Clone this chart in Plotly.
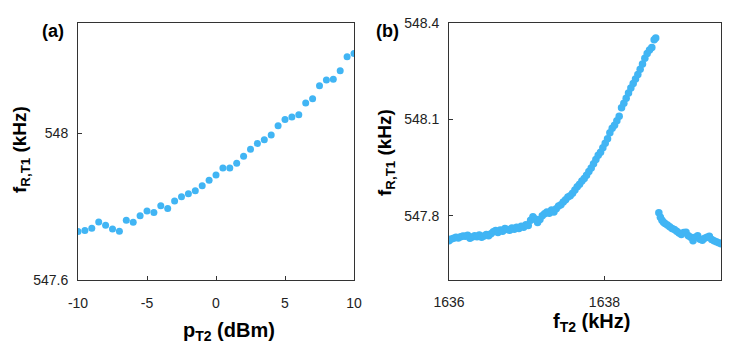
import plotly.graph_objects as go
from plotly.subplots import make_subplots

# panel (a): resonator frequency vs pump power
p_t2 = [-10, -9.5, -9, -8.5, -8, -7.5, -7, -6.5, -6, -5.5, -5, -4.5, -4, -3.5, -3,
        -2.5, -2, -1.5, -1, -0.5, 0, 0.5, 1, 1.5, 2, 2.5, 3, 3.5, 4, 4.5, 5,
        5.5, 6, 6.5, 7, 7.5, 8, 8.5, 9, 9.5, 10]
f_r_a = [547.732, 547.735, 547.741, 547.758, 547.749, 547.739, 547.733, 547.763,
         547.757, 547.775, 547.788, 547.784, 547.802, 547.795, 547.815, 547.827,
         547.835, 547.843, 547.857, 547.872, 547.886, 547.905, 547.905, 547.918,
         547.937, 547.956, 547.972, 547.982, 547.995, 548.020, 548.037, 548.044,
         548.050, 548.082, 548.094, 548.129, 548.145, 548.147, 548.170, 548.208,
         548.217]
ticks_a_x = [-10, -5, 0, 5, 10]
ticks_a_y = [547.6, 548]

# panel (b): resonator frequency vs pump frequency (upper branch, then jump)
f_t2_up = [1636.00, 1636.03, 1636.06, 1636.09, 1636.12, 1636.15, 1636.18, 1636.21,
           1636.24, 1636.27, 1636.30, 1636.33, 1636.36, 1636.39, 1636.42, 1636.45,
           1636.48, 1636.51, 1636.54, 1636.57, 1636.60, 1636.63, 1636.66, 1636.69,
           1636.72, 1636.75, 1636.78, 1636.81, 1636.84, 1636.87, 1636.90, 1636.93,
           1636.96, 1636.99, 1637.02, 1637.05, 1637.08, 1637.11, 1637.14, 1637.17,
           1637.20, 1637.23, 1637.26, 1637.29, 1637.32, 1637.35, 1637.38, 1637.41,
           1637.44, 1637.47, 1637.50, 1637.53, 1637.56, 1637.59, 1637.62, 1637.65,
           1637.68, 1637.71, 1637.74, 1637.77, 1637.80, 1637.83, 1637.86, 1637.89,
           1637.92, 1637.95, 1637.98, 1638.01, 1638.04, 1638.07, 1638.10, 1638.13,
           1638.16, 1638.19, 1638.22, 1638.25, 1638.28, 1638.31, 1638.34, 1638.37,
           1638.40, 1638.43, 1638.46, 1638.49, 1638.52, 1638.55, 1638.58, 1638.61,
           1638.64, 1638.66]
f_r_up = [547.722, 547.728, 547.730, 547.733, 547.731, 547.735, 547.737, 547.736,
          547.739, 547.730, 547.734, 547.738, 547.735, 547.740, 547.733, 547.737,
          547.742, 547.738, 547.744, 547.750, 547.754, 547.748, 547.756, 547.752,
          547.760, 547.757, 547.755, 547.762, 547.758, 547.764, 547.760, 547.767,
          547.764, 547.772, 547.770, 547.786, 547.797, 547.790, 547.779, 547.788,
          547.800, 547.806, 547.812, 547.808, 547.818, 547.812, 547.822, 547.830,
          547.834, 547.843, 547.850, 547.858, 547.862, 547.870, 547.880, 547.890,
          547.898, 547.908, 547.916, 547.926, 547.938, 547.949, 547.962, 547.975,
          547.988, 547.998, 548.012, 548.026, 548.040, 548.058, 548.072, 548.082,
          548.096, 548.110, 548.136, 548.150, 548.166, 548.182, 548.198, 548.212,
          548.226, 548.240, 548.256, 548.272, 548.290, 548.305, 548.316, 548.324,
          548.348, 548.353]
f_t2_low = [1638.70, 1638.72, 1638.74, 1638.76, 1638.78, 1638.81, 1638.84, 1638.87,
            1638.90, 1638.93, 1638.96, 1638.99, 1639.02, 1639.05, 1639.08, 1639.11,
            1639.14, 1639.17, 1639.20, 1639.23, 1639.26, 1639.29, 1639.32, 1639.35,
            1639.38, 1639.41, 1639.44, 1639.47, 1639.50]
f_r_low = [547.809, 547.795, 547.786, 547.780, 547.776, 547.771, 547.766, 547.760,
           547.757, 547.752, 547.746, 547.742, 547.748, 547.749, 547.738, 547.733,
           547.722, 547.733, 547.738, 547.727, 547.724, 547.730, 547.733, 547.736,
           547.726, 547.722, 547.719, 547.716, 547.713]
ticks_b_x = [1636, 1638]
ticks_b_y = [547.8, 548.1, 548.4]

BLUE = '#41b5f4'
FONT = 'Liberation Sans, Arial, Helvetica, sans-serif'
W, H = 736, 355

fig = make_subplots(rows=1, cols=2)

fig.add_trace(go.Scatter(x=p_t2, y=f_r_a, mode='markers',
                         marker=dict(color=BLUE, size=7), showlegend=False),
              row=1, col=1)
fig.add_trace(go.Scatter(x=f_t2_up + f_t2_low, y=f_r_up + f_r_low, mode='markers',
                         marker=dict(color=BLUE, size=7.5), showlegend=False),
              row=1, col=2)

axis_style = dict(showline=True, linecolor='#333', linewidth=1, mirror=True,
                  ticks='inside', ticklen=4, tickcolor='#333', showgrid=False,
                  zeroline=False, automargin=False,
                  tickfont=dict(size=14, color='#222', family=FONT))

fig.update_xaxes(**axis_style)
fig.update_yaxes(**axis_style)

fig.update_xaxes(domain=[78 / W, 354 / W], range=[-10, 10],
                 tickvals=ticks_a_x, ticktext=[str(t) for t in ticks_a_x],
                 ticklabelstandoff=10, row=1, col=1)
fig.update_yaxes(domain=[75 / H, 332 / H], range=[547.6, 548.3],
                 tickvals=ticks_a_y, ticktext=['547.6', '548'],
                 ticklabelstandoff=6, row=1, col=1)
fig.update_xaxes(domain=[449 / W, 721 / W], range=[1636, 1639.5],
                 tickvals=ticks_b_x, ticklabelstandoff=9, row=1, col=2)
fig.update_yaxes(domain=[75 / H, 332 / H], range=[547.6, 548.4],
                 tickvals=ticks_b_y, ticklabelstandoff=6, row=1, col=2)


def label(text, x, y, size, angle=0):
    fig.add_annotation(text=text, x=x / W, y=1 - y / H, xref='paper', yref='paper',
                       xanchor='center', yanchor='middle',
                       showarrow=False, textangle=angle,
                       font=dict(size=size, color='black', family=FONT))


label('<b>(a)</b>', 53, 31, 18)
label('<b>(b)</b>', 387, 31, 18)
label('<b>f<sub>R,T1</sub> (kHz)</b>', 21, 150, 19, -90)
label('<b>f<sub>R,T1</sub> (kHz)</b>', 386, 153, 19, -90)
label('<b>p<sub>T2</sub> (dBm)</b>', 229, 331, 20)
label('<b>f<sub>T2</sub> (kHz)</b>', 591, 322, 20)

fig.update_layout(width=W, height=H, margin=dict(l=0, r=0, t=0, b=0),
                  plot_bgcolor='white', paper_bgcolor='white',
                  font=dict(family=FONT))

# drop the browser's default 8px body margin so the figure sits at the page corner
fig.write_html("out.html", config={'displayModeBar': False},
               post_script="document.body.style.margin = '0';")
